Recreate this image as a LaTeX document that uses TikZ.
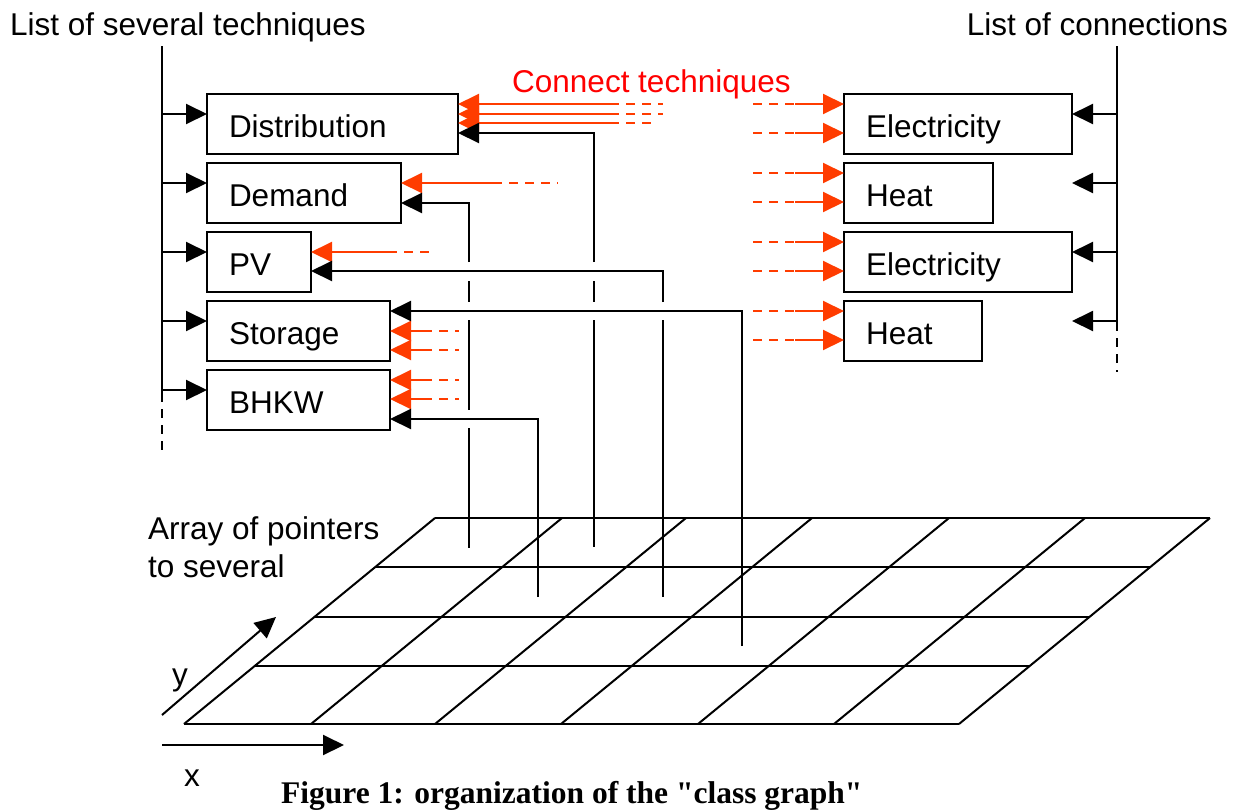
\documentclass[tikz,border=0pt]{standalone}
\usepackage{fontspec}
\setmainfont{Liberation Sans}
\newfontfamily\capfont{Liberation Serif}
\usetikzlibrary{arrows.meta,positioning,calc}
\definecolor{LinkRed}{RGB}{255,60,0}
\definecolor{LabelRed}{RGB}{255,0,0}
\tikzset{
  tbox/.style={draw, line width=2pt, outer sep=0pt, inner xsep=22pt, inner ysep=0pt,
               minimum height=60pt, text width=#1, text height=26pt, text depth=0pt,
               align=left, anchor=north west, font=\fontsize{31.5}{38}\selectfont},
  lbl/.style={inner sep=0pt, font=\fontsize{31.5}{38}\selectfont},
  bline/.style={line width=2pt},
  barr/.style={bline, -{Triangle[length=21pt,width=20pt]}},
  rline/.style={line width=2pt, LinkRed},
  rdash/.style={rline, dash pattern=on 9pt off 7pt},
  rarr/.style={rline, -{Triangle[length=21pt,width=20pt]}},
  gline/.style={line width=2pt},
}
\begin{document}
\begin{tikzpicture}[x=1pt, y=-1pt]
\useasboundingbox (0,0) rectangle (1241,809);

% titles
\node[lbl, anchor=base west] (ltitle) at (10,35) {List of several techniques};
\node[lbl, anchor=base east] (rtitle) at (1228,35) {List of connections};
\node[lbl, anchor=base west, text=LabelRed] (ctitle) at (512,92) {Connect techniques};

% techniques
\node[tbox=207pt] (dist) at (207,94) {Distribution};
\node[tbox=150pt, below=9pt of dist.south west, anchor=north west] (dem) {Demand};
\node[tbox=60pt, below=9pt of dem.south west, anchor=north west] (pv) {PV};
\node[tbox=139pt, below=9pt of pv.south west, anchor=north west] (sto) {Storage};
\node[tbox=139pt, below=9pt of sto.south west, anchor=north west] (bhkw) {BHKW};

% connections
\node[tbox=184pt] (elec1) at (844,94) {Electricity};
\node[tbox=105pt, below=9pt of elec1.south west, anchor=north west] (heat1) {Heat};
\node[tbox=184pt, below=9pt of heat1.south west, anchor=north west] (elec2) {Electricity};
\node[tbox=94pt, below=9pt of elec2.south west, anchor=north west] (heat2) {Heat};

% list lines
\coordinate (ltop) at (162,46);
\coordinate (lmid) at (162,393);
\coordinate (lbot) at (162,450);
\draw[bline] (ltop) -- (lmid);
\draw[bline, dash pattern=on 9pt off 7pt] (lmid) -- (lbot);
\foreach \n in {dist,dem,pv,sto,bhkw}
  \draw[barr] ([yshift=10pt]\n.west -| ltop) -- ([yshift=10pt]\n.west);

\coordinate (rtop) at (1117,46);
\coordinate (rmid) at (1117,322);
\coordinate (rbot) at (1117,372);
\draw[bline] (rtop) -- (rmid);
\draw[bline, dash pattern=on 9pt off 7pt] (rmid) -- (rbot);
\foreach \n in {elec1,heat1,elec2,heat2}
  \draw[barr] ([yshift=10pt]\n.west -| rtop) -- ([yshift=10pt]\n.west -| elec1.east);

% red links
\foreach \n/\s/\a/\b in {dist/20/152/53, dist/10/152/53, dist/1/152/42, dem/10/92/65,
                         pv/10/77/48, sto/0/33/36, sto/-19/33/36, bhkw/20/33/36, bhkw/1/33/36} {
  \draw[rarr] ([xshift=\a pt, yshift=\s pt]\n.east) -- ([yshift=\s pt]\n.east);
  \draw[rdash] ([xshift=\a pt, yshift=\s pt]\n.east) -- ++(\b,0);
}
\foreach \n in {elec1,heat1,elec2,heat2}
  \foreach \s in {20,-9} {
    \draw[rdash] ([xshift=-91pt, yshift=\s pt]\n.west) -- ++(42,0);
    \draw[rarr] ([xshift=-49pt, yshift=\s pt]\n.west) -- ([yshift=\s pt]\n.west);
  }

% array of pointers
\foreach \r in {518,567,617,666,724}
  \draw[gline] ({184+(724-\r)/206*251},\r) -- ({959+(724-\r)/206*251},\r);
\foreach \c in {184,311,435,561,698,834,959}
  \draw[gline] (\c,724) -- (\c+251,518);

\node[lbl, anchor=base west, align=left] (arrlbl) at (148,577) {Array of pointers\\to several};

% pointers up to the techniques
\coordinate (a1) at (594,547);
\coordinate (a2) at (469,548);
\coordinate (a3) at (663,597);
\coordinate (a4) at (742,646);
\coordinate (a5) at (538,597);
\coordinate (hpv) at ([yshift=-9pt]pv.east);
\coordinate (hsto) at ([yshift=20pt]sto.east);
\coordinate (hbk) at ([yshift=-19pt]bhkw.east);

\draw[barr] ([yshift=9pt]a1 |- hpv) |- ([yshift=-9pt]dist.east);
\draw[bline] ([yshift=-10pt]a1 |- hpv) -- ([yshift=9pt]a1 |- hsto)
             ([yshift=-9pt]a1 |- hsto) -- (a1);
\draw[barr] ([yshift=9pt]a2 |- hpv) |- ([yshift=-10pt]dem.east);
\draw[bline] ([yshift=-10pt]a2 |- hpv) -- ([yshift=9pt]a2 |- hsto)
             ([yshift=-9pt]a2 |- hsto) -- ([yshift=9pt]a2 |- hbk)
             ([yshift=-9pt]a2 |- hbk) -- (a2);
\draw[barr] ([yshift=9pt]a3 |- hsto) |- (hpv);
\draw[bline] ([yshift=-9pt]a3 |- hsto) -- (a3);
\draw[barr] (a4) |- (hsto);
\draw[barr] (a5) |- (hbk);

% axes
\coordinate (yo) at (162,715);
\coordinate (ye) at (276,617);
\coordinate (xo) at (162,745);
\coordinate (xe) at (344,745);
\draw[barr] (yo) -- (ye);
\draw[barr] (xo) -- (xe);
\node[lbl, anchor=base] (ylbl) at (180,685) {y};
\node[lbl, anchor=base] (xlbl) at (192,786) {x};

\node[inner sep=0pt, anchor=base west, font=\capfont\bfseries\fontsize{31.5}{36}\selectfont]
  (caption) at (281,803) {Figure 1: organization of the "class graph"};
\end{tikzpicture}
\end{document}
